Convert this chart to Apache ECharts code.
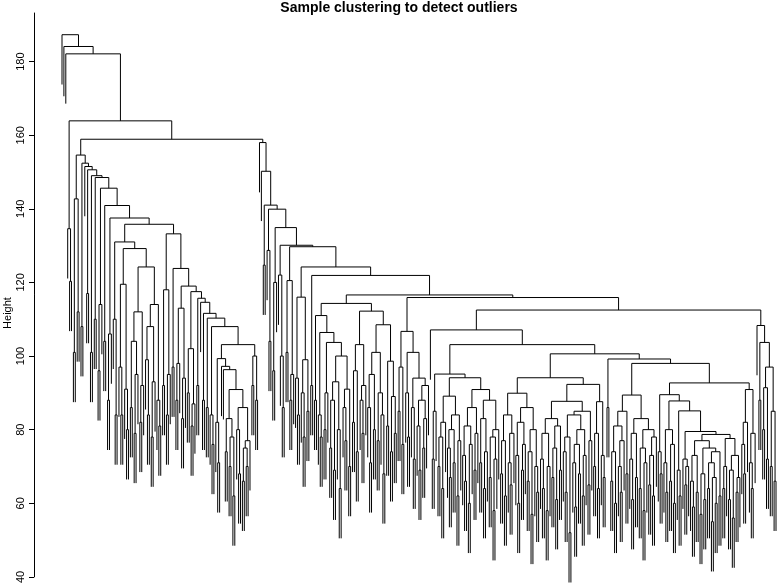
<!DOCTYPE html>
<html>
<head>
<meta charset="utf-8">
<title>Sample clustering to detect outliers</title>
<script src="https://cdn.jsdelivr.net/npm/echarts@6.0.0/dist/echarts.min.js"></script>
<style>
  html, body { margin: 0; padding: 0; background: #fff; }
  #chart { width: 778px; height: 586px; }
</style>
</head>
<body>
<div id="chart"></div>
<script>
// merge height between each pair of neighbouring samples, in plotted (leaf) order
// the tree is rebuilt from these: the highest gap in a run of leaves is where it splits
const outlierGaps = [187.3, 184.1];
const outlierJoin = 182.1;
const smallClusterGaps = [134.6, 120.3];
const mainJoin = 163.9;
const leftGaps = [
  101, 142.7, 112, 154.6, 108, 152.4, 151.5, 117, 150.6, 101, 149.0, 110, 148.5,
  96, 114, 145.6, 104, 140.9, 88, 106, 137.5,
  110, 84, 131.0, 97, 84, 119.5, 91, 80, 129.2,
  86, 104, 79, 95, 112, 82, 92, 124.2, 99, 84, 108, 78, 93, 114, 88, 81,
  135.8,
  92, 118, 84, 95, 133.2, 97, 123.8, 88, 98, 113, 83, 94, 119.0, 90, 102, 81, 87,
  117.5, 92, 115.7, 114.6, 88, 111.6, 86, 110.3, 84, 76, 108.0,
  82, 71, 99.3, 97.2, 96.3, 74, 83, 70, 78, 62, 90.9, 80, 68, 86, 66, 75, 70, 77,
  103.1, 92, 100, 88
];
const leftRightJoin = 158.9;
const rightGapsA = [
  158.0, 150.2, 124.7, 141.0, 128.7, 104, 139.9, 96, 120, 134.9, 122, 100, 86,
  130.1, 101, 120.5, 88, 95, 129.7, 94, 84, 116, 90, 78, 99, 85, 124.2, 92
];
const joinA = 121.9;
const rightGapsB = [
  88, 111.0, 84, 78, 106.4, 80, 90, 103.7, 75, 88, 69, 93, 80, 64, 100, 86, 77, 91, 70,
  114.3,
  82, 96, 74, 103.1, 88, 79, 92, 112.2, 86, 71, 95, 80, 101, 77, 90, 84, 68, 108.5,
  81, 98.6, 74, 89, 79,
  116.6,
  85, 97, 76, 106.7, 90, 78, 101, 86, 72, 94, 81, 69, 88, 75, 83, 92
];
const joinB = 115.9;
const rightGapsC = [
  107.1,
  72, 85, 95.1, 70, 78, 64, 82, 89.1, 75, 67, 80, 71, 84, 62, 77, 94.1,
  73, 66, 81, 60, 76, 86, 69, 79, 90.9, 71, 83, 64, 74, 88, 67, 78, 58, 72, 80,
  103.1,
  68, 77, 62, 84, 71, 65, 79, 89.9, 73, 60, 82, 69, 76, 86, 66, 74, 57, 80, 70, 63,
  94.1,
  72, 64, 79, 58, 70, 83, 67, 75, 61, 81, 69, 87.7, 74, 63, 78, 52, 84, 71, 59, 76,
  68, 80, 62, 73, 85, 65, 77,
  92.3, 70, 79, 64, 87.6, 73, 67,
  100.6, 86
];
const rightGapsD = [
  99.2,
  66, 74, 60, 81, 70, 63, 77, 85, 68, 89.4, 72, 61, 79, 67, 83, 64, 75, 58, 71, 80,
  65, 73, 62, 78,
  98.0,
  74, 68, 89.5, 71, 63, 80, 66, 76, 60, 87.8, 69, 62, 85.1, 72, 65, 70, 79.5,
  66, 59, 73, 63, 77, 57, 68, 61, 75, 64, 71, 55, 67, 60, 74, 62, 78.7, 64, 70,
  77.6, 61, 69, 56, 73, 63, 67,
  92.7, 76, 68, 82, 90.9, 71, 64, 79
];
const joinC = 112.5;
const tailGaps = [108.3, 88, 103.7, 80, 91.4, 72, 97.0, 70, 85, 66];
const tickValues = [40, 60, 80, 100, 120, 140, 160, 180];

const gaps = [].concat(
  outlierGaps, [outlierJoin], smallClusterGaps, [mainJoin], leftGaps, [leftRightJoin],
  rightGapsA, [joinA], rightGapsB, [joinB], rightGapsC, rightGapsD, [joinC], tailGaps
);
const n = gaps.length + 1;
// leaves hang 10% of the height range below their merge (hclust default)
const hang = 0.1 * (Math.max.apply(null, gaps) - Math.min.apply(null, gaps));

// each merge becomes [xLeft, xRight, height, leftBottom, rightBottom]
const merges = [];
function build(a, b) {
  if (a === b) return { x: a + 1, leaf: true };
  let k = a;
  for (let i = a; i < b; i++) if (gaps[i] > gaps[k]) k = i;
  const left = build(a, k), right = build(k + 1, b);
  const h = gaps[k];
  merges.push([left.x, right.x, h,
    left.leaf ? h - hang : left.h,
    right.leaf ? h - hang : right.h]);
  return { x: (left.x + right.x) / 2, h: h, leaf: false };
}
build(0, n - 1);

const chart = echarts.init(document.getElementById('chart'));
chart.setOption({
  animation: false,
  grid: { left: 62, right: 2, top: 13, bottom: 6 },
  xAxis: { type: 'value', min: 1, max: n, show: false },
  yAxis: {
    type: 'value',
    min: 40,
    max: 193.2,
    offset: 28,
    axisLine: { show: true, lineStyle: { color: '#000', width: 1 } },
    axisTick: { show: true, length: 5, lineStyle: { color: '#000' }, customValues: tickValues },
    axisLabel: {
      rotate: 90, margin: 8, color: '#000', fontSize: 11,
      fontFamily: 'Liberation Sans', customValues: tickValues
    },
    splitLine: { show: false }
  },
  graphic: [
    {
      type: 'text', x: 399, y: 8,
      style: {
        text: 'Sample clustering to detect outliers', fill: '#000',
        font: 'bold 14px "Liberation Sans"', align: 'center', verticalAlign: 'middle'
      }
    },
    {
      type: 'text', x: 8, y: 313, rotation: Math.PI / 2,
      style: {
        text: 'Height', fill: '#000', font: '11px "Liberation Sans"',
        align: 'center', verticalAlign: 'middle'
      }
    }
  ],
  series: [{
    type: 'custom',
    clip: false,
    silent: true,
    data: merges,
    encode: { x: [0, 1], y: [2, 3, 4] },
    renderItem: function (params, api) {
      const xl = api.value(0), xr = api.value(1), h = api.value(2);
      return {
        type: 'polyline',
        shape: {
          points: [
            api.coord([xl, api.value(3)]),
            api.coord([xl, h]),
            api.coord([xr, h]),
            api.coord([xr, api.value(4)])
          ]
        },
        style: { stroke: '#000', lineWidth: 1, fill: null }
      };
    }
  }]
});
</script>
</body>
</html>
